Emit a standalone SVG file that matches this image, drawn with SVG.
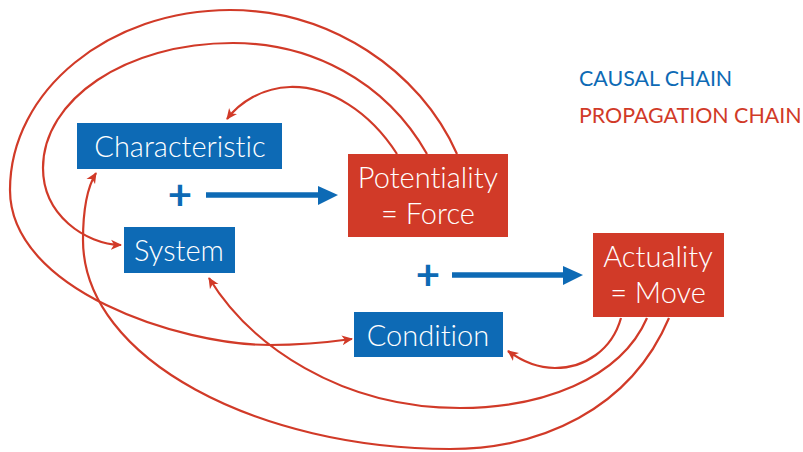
<svg xmlns="http://www.w3.org/2000/svg" width="803" height="452" viewBox="0 0 803 452">
<style>
.bb{fill:#0d6ab5}
.rb{fill:#d13a28}
text{font-variant-ligatures:none;font-feature-settings:"liga" 0,"clig" 0}
.lbl{font-family:Lato,"Open Sans","DejaVu Sans",sans-serif;font-weight:300;font-size:29px;fill:#fff;text-anchor:middle}
.plus{font-family:Lato,"DejaVu Sans",sans-serif;font-weight:700;font-size:42px;fill:#0d6ab5;text-anchor:middle}
.leg{font-family:Lato,"DejaVu Sans",sans-serif;font-size:21.4px}
.rc{fill:none;stroke:#d13a28;stroke-width:2.2;marker-end:url(#ra)}
.bc{stroke:#0d6ab5;stroke-width:5.5}
</style>
<defs>
<marker id="ra" markerWidth="12" markerHeight="12" refX="10" refY="5" orient="auto" markerUnits="userSpaceOnUse" viewBox="0 0 12 10">
<path d="M0,0 L11,5 L0,10 L3,5 z" fill="#d13a28"/>
</marker>
</defs>
<g id="connectors">
<path class="rc" d="M397 154 C370 112 330 86 290 87 C262 88 240 102 227 119"/>
<path class="rc" d="M427 154 C385 80 310 43 233 43 C125 43 43 100 43 168 C43 215 85 244 121 245"/>
<path class="rc" d="M457 154 C420 70 330 10 230 10 C110 10 10 90 10 190 C10 290 180 345 270 345 C305 345 330 342 352 339"/>
<path class="rc" d="M621 318 C612 350 585 368 555 368 C535 368 520 360 508 351"/>
<path class="rc" d="M647 318 C620 380 540 408 460 408 C340 408 250 345 209 278"/>
<path class="rc" d="M669 318 C630 410 540 449 450 449 C260 449 83 360 83 240 C83 205 88 186 96 173"/>
<line class="bc" x1="206" y1="195" x2="322" y2="195"/>
<polygon fill="#0d6ab5" points="318,186 338,195 318,205"/>
<line class="bc" x1="452" y1="275" x2="566" y2="275"/>
<polygon fill="#0d6ab5" points="563,266 583,275 563,285"/>
</g>
<g id="characteristic">
<rect class="bb" x="77" y="123" width="205" height="46"/>
<text class="lbl" x="180" y="157">Characteristic</text>
</g>
<g id="system">
<rect class="bb" x="124" y="227" width="111" height="46"/>
<text class="lbl" x="179" y="261">System</text>
</g>
<g id="condition">
<rect class="bb" x="354" y="312" width="149" height="45"/>
<text class="lbl" x="428" y="346">Condition</text>
</g>
<g id="potentiality">
<rect class="rb" x="348" y="154" width="160" height="83"/>
<text class="lbl" x="428" y="188">Potentiality</text>
<text class="lbl" x="428" y="224">= Force</text>
</g>
<g id="actuality">
<rect class="rb" x="593" y="233" width="131" height="84"/>
<text class="lbl" x="658" y="267">Actuality</text>
<text class="lbl" x="658" y="303">= Move</text>
</g>
<g id="plus1"><text class="plus" x="180" y="210">+</text></g>
<g id="plus2"><text class="plus" x="428" y="290">+</text></g>
<g id="legend">
<text class="leg" x="579" y="86" fill="#0d6ab5">CAUSAL CHAIN</text>
<text class="leg" x="579" y="123" fill="#d13a28">PROPAGATION CHAIN</text>
</g>
</svg>
